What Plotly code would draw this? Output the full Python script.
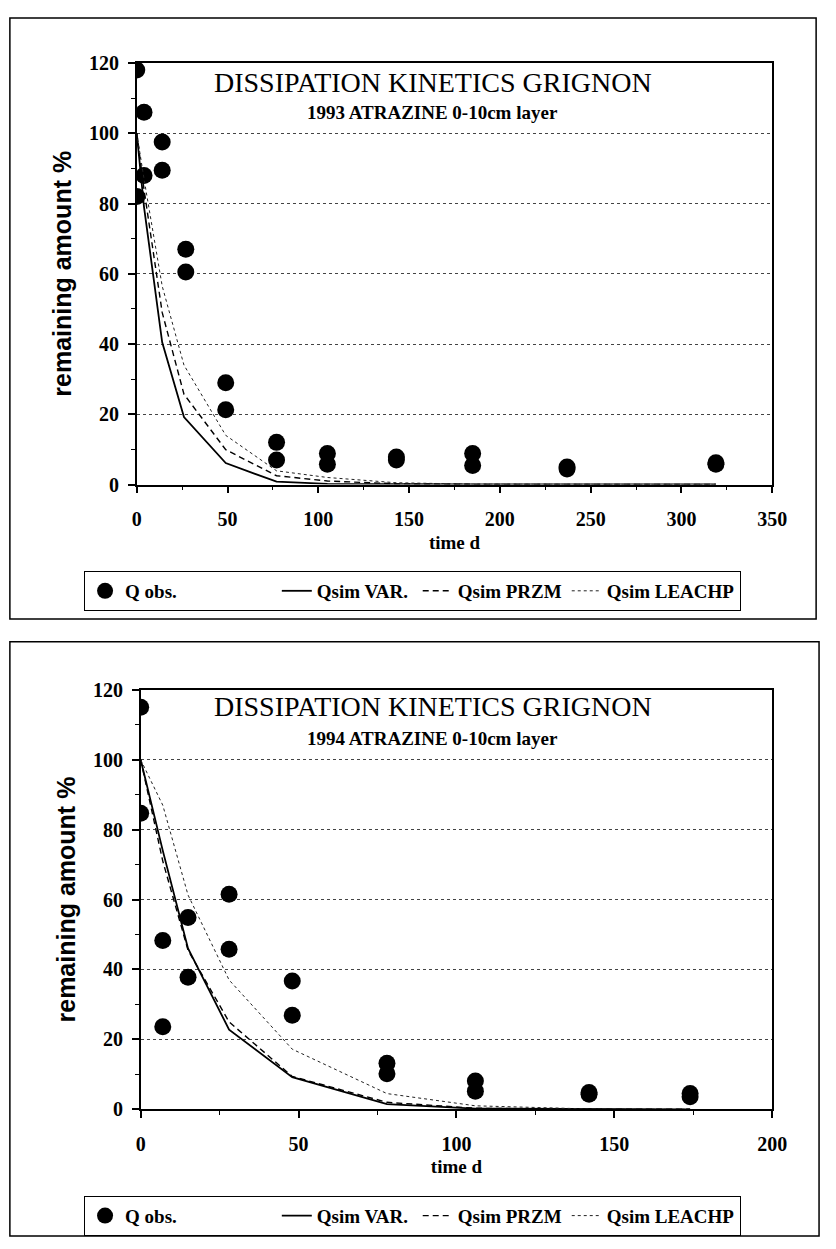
import plotly.graph_objects as go

W, H = 836, 1249

# ---------------- data: 1993 ----------------
obs93_t = [0, 0, 4, 4, 14, 14, 27, 27, 49, 49, 77, 77, 105, 105, 143, 143, 185, 185, 237, 237, 319, 319]
obs93_q = [118, 82, 106, 88, 97.5, 89.5, 67, 60.5, 29, 21.3, 12, 7, 8.8, 5.8, 7.8, 7.0, 8.8, 5.4, 5.0, 4.4, 6.2, 5.8]
sim93_t = [0, 4, 14, 26, 49, 77, 105, 143, 185, 237, 319]
var93 = [100, 79, 40.5, 19.2, 6.1, 0.8, 0.2, 0.05, 0, 0, 0]
przm93 = [100, 84, 49, 25.7, 9.9, 2.5, 1.0, 0.2, 0.05, 0, 0]
leachp93 = [100, 87, 56.5, 34, 14, 3.9, 2.0, 0.5, 0.1, 0, 0]

# ---------------- data: 1994 ----------------
obs94_t = [0, 0, 7, 7, 15, 15, 28, 28, 48, 48, 78, 78, 106, 106, 142, 142, 174, 174]
obs94_q = [115, 84.7, 48.3, 23.6, 54.9, 37.8, 61.5, 45.8, 36.7, 26.9, 13.2, 10.2, 8.1, 5.2, 4.8, 4.3, 4.5, 3.6]
sim94_t = [0, 7, 15, 28, 48, 78, 106, 142, 174]
var94 = [100, 74, 46, 22.8, 9.2, 1.5, 0.2, 0, 0]
przm94 = [100, 71, 45.5, 25, 9.4, 2.0, 0.3, 0, 0]
leachp94 = [100, 87, 61.3, 37, 17.2, 4.5, 1.0, 0.1, 0]

titles = ["DISSIPATION KINETICS GRIGNON", "DISSIPATION KINETICS GRIGNON"]
subtitles = ["1993 ATRAZINE 0-10cm layer", "1994 ATRAZINE 0-10cm layer"]
names = ["Q obs.", "Qsim VAR.", "Qsim PRZM", "Qsim LEACHP"]
x_ranges = [[0, 350], [0, 200]]
y_range = [0, 120]

SERIF = "Liberation Serif"
SANS = "Liberation Sans"

def py(ypix):
    return 1 - ypix / H

def px(xpix):
    return xpix / W

NB = "&nbsp;"
legend_names = [names[0] + NB * 20, names[1] + NB * 1, names[2], names[3]]

fig = go.Figure()

sets = [
    (obs93_t, obs93_q, sim93_t, var93, przm93, leachp93, "x", "y", "legend"),
    (obs94_t, obs94_q, sim94_t, var94, przm94, leachp94, "x2", "y2", "legend2"),
]
for (ot, oq, st, v, p, l, xa, ya, lg) in sets:
    fig.add_trace(go.Scatter(x=ot, y=oq, mode="markers", name=legend_names[0],
                             marker=dict(symbol="circle", size=17, color="black"),
                             xaxis=xa, yaxis=ya, legend=lg))
    fig.add_trace(go.Scatter(x=st, y=v, mode="lines", name=legend_names[1],
                             line=dict(color="black", width=1.8),
                             xaxis=xa, yaxis=ya, legend=lg))
    fig.add_trace(go.Scatter(x=st, y=p, mode="lines", name=legend_names[2],
                             line=dict(color="black", width=1.4, dash="6px,4px"),
                             xaxis=xa, yaxis=ya, legend=lg))
    fig.add_trace(go.Scatter(x=st, y=l, mode="lines", name=legend_names[3],
                             line=dict(color="#222", width=1, dash="dot"),
                             xaxis=xa, yaxis=ya, legend=lg))

tickfont = dict(family=SERIF, size=20, color="black", weight="bold")

def xaxis(domain, rng, anchor):
    return dict(domain=domain, range=rng, anchor=anchor, dtick=50, tick0=0,
                ticks="outside", ticklen=7, tickwidth=1.5, tickcolor="black",
                minor=dict(dtick=25, ticks="outside", ticklen=4, tickwidth=1, tickcolor="black", showgrid=False),
                showgrid=False, zeroline=False, showline=True, linecolor="black", linewidth=1.5, mirror=True,
                tickfont=tickfont, ticklabelstandoff=9,
                title=dict(text="time d", font=dict(family=SERIF, size=19, color="black", weight="bold"), standoff=6))

def yaxis(domain, anchor):
    return dict(domain=domain, range=y_range, anchor=anchor, dtick=20, tick0=0,
                ticks="outside", ticklen=7, tickwidth=1.5, tickcolor="black",
                minor=dict(dtick=10, ticks="outside", ticklen=4, tickwidth=1, tickcolor="black", showgrid=False),
                showgrid=True, gridcolor="#444", griddash="dot", gridwidth=1,
                zeroline=False, showline=True, linecolor="black", linewidth=1.5, mirror=True,
                tickfont=tickfont, ticklabelstandoff=5,
                title=dict(text="remaining amount %", font=dict(family=SANS, size=25, color="black", weight="bold"), standoff=10))

legend_common = dict(orientation="h", xanchor="left", yanchor="top", bordercolor="black", borderwidth=1,
                     bgcolor="white", font=dict(family=SERIF, size=19, color="black", weight="bold"),
                     itemwidth=30, tracegroupgap=0)

fig.update_layout(
    width=W, height=H, margin=dict(l=0, r=0, t=0, b=0),
    paper_bgcolor="white", plot_bgcolor="white", showlegend=True,
    xaxis=xaxis([px(135), px(786)], x_ranges[0], "y"),
    yaxis=yaxis([py(482), py(53)], "x"),
    xaxis2=xaxis([px(139), px(786)], x_ranges[1], "y2"),
    yaxis2=yaxis([py(1118), py(691)], "x2"),
    legend=dict(x=px(81), y=py(570), **legend_common),
    legend2=dict(x=px(81), y=py(1206), **legend_common),
)

# titles
for i, (ty, sy) in enumerate([(73, 103), (708, 741)]):
    fig.add_annotation(text=titles[i], xref="paper", yref="paper", x=px(438), y=py(ty),
                       xanchor="center", yanchor="middle", showarrow=False,
                       font=dict(family=SERIF, size=28, color="black"))
    fig.add_annotation(text=subtitles[i], xref="paper", yref="paper", x=px(438), y=py(sy),
                       xanchor="center", yanchor="middle", showarrow=False,
                       font=dict(family=SERIF, size=19, color="black", weight="bold"))

# panel frames
fig.add_shape(type="rect", xref="paper", yref="paper", x0=px(5), x1=px(831), y0=py(619), y1=py(7),
              line=dict(color="black", width=1.5))
fig.add_shape(type="rect", xref="paper", yref="paper", x0=px(5), x1=px(834), y0=py(1247), y1=py(642),
              line=dict(color="black", width=1.5))

fig.write_html("out.html")
